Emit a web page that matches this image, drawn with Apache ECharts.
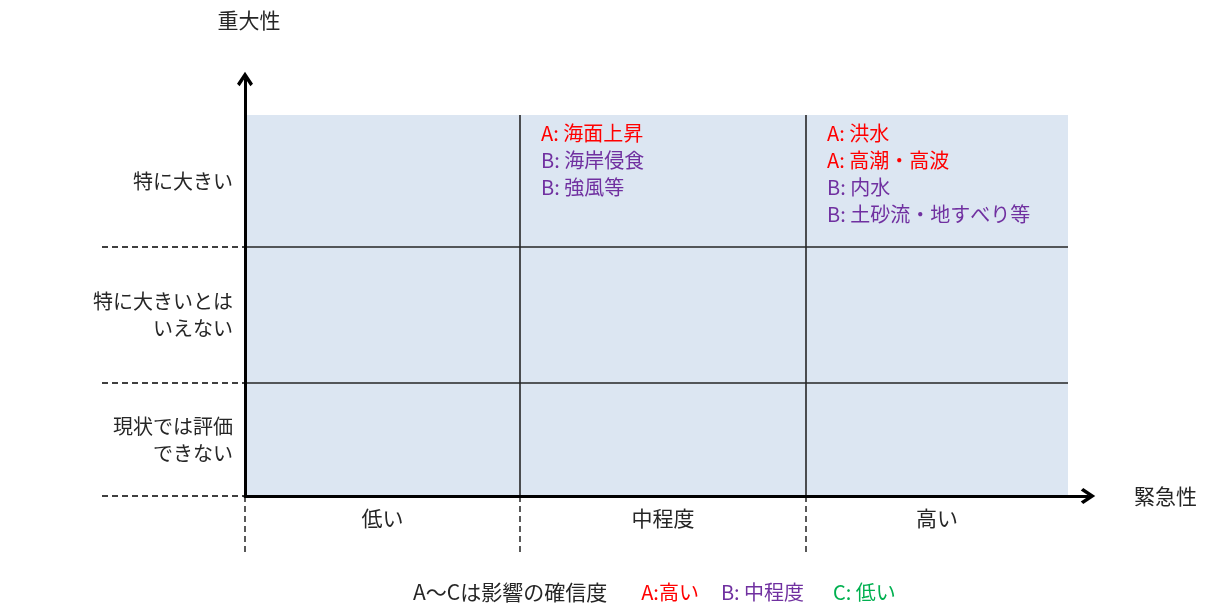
<!DOCTYPE html>
<html><head><meta charset="utf-8">
<script src="https://cdn.jsdelivr.net/npm/echarts@6/dist/echarts.min.js"></script>
<style>html,body{margin:0;padding:0;background:#fff}#c{width:1208px;height:608px}</style>
</head><body><div id="c"></div>
<script>
// ---- data ----
const colLabels = ['低い', '中程度', '高い'];
const rowLabels = ['現状では評価\nできない', '特に大きいとは\nいえない', '特に大きい'];
const colEdges = [0, 275, 561, 823];   // column boundaries (urgency)
const rowEdges = [0, 113, 249, 381];   // row boundaries (severity)
const axisMaxX = 843;
const axisMaxY = 417;
const axisNames = ['緊急性', '重大性'];
// [column index, row index, confidence grade, impact]
const cellItems = [
  [1, 2, 'A', '海面上昇'],
  [1, 2, 'B', '海岸侵食'],
  [1, 2, 'B', '強風等'],
  [2, 2, 'A', '洪水'],
  [2, 2, 'A', '高潮・高波'],
  [2, 2, 'B', '内水'],
  [2, 2, 'B', '土砂流・地すべり等']
];
const legendTitle = 'A〜Cは影響の確信度';
const gradeKeys = ['A', 'B', 'C'];
const gradeNames = ['A:高い', 'B: 中程度', 'C: 低い'];
const gradeColors = { A: '#FF0000', B: '#7030A0', C: '#00B050' };

// ---- chart ----
const FONT = '"Noto Sans CJK JP", "Noto Sans", sans-serif';
const chart = echarts.init(document.getElementById('c'), null, { renderer: 'canvas' });

const cellData = [];
cellItems.forEach(function (it) {
  const line = cellData.filter(function (d) { return d.col === it[0] && d.row === it[1]; }).length;
  cellData.push({ col: it[0], row: it[1], grade: it[2], text: it[3], line: line });
});

const arrow = 'path://M8,0 L16,12 L13.4,14.5 L8,6.2 L2.6,14.5 L0,12 Z';

const legendGaps = [34, 22, 29];
const rich = { t: { fontFamily: FONT, fontSize: 21, fontWeight: 'normal', color: '#262626' } };
gradeKeys.forEach(function (k, i) {
  rich[k] = { fontFamily: FONT, fontSize: 20, fontWeight: 'normal', color: gradeColors[k], padding: [0, 0, 0, legendGaps[i]] };
});
const legendText = '{t|' + legendTitle + '}' + gradeKeys.map(function (k, i) {
  return '{' + k + '|' + gradeNames[i] + '}';
}).join('');

const option = {
  animation: false,
  backgroundColor: '#ffffff',
  title: {
    text: legendText,
    left: 408, top: 577,
    textStyle: { rich: rich, fontWeight: 'normal' }
  },
  grid: { left: 245, right: 120, top: 79, bottom: 112 },
  xAxis: {
    type: 'value', min: 0, max: axisMaxX, z: 10,
    name: axisNames[0], nameLocation: 'end', nameGap: 46,
    nameTextStyle: { fontFamily: FONT, fontSize: 21, color: '#262626', align: 'left', verticalAlign: 'middle' },
    axisLine: { show: true, onZero: false, symbol: ['none', arrow], symbolSize: [16, 15],
      lineStyle: { color: '#000', width: 3 } },
    axisTick: { show: false }, axisLabel: { show: false }, splitLine: { show: false }
  },
  yAxis: {
    type: 'value', min: 0, max: axisMaxY, z: 10,
    name: axisNames[1], nameLocation: 'end', nameGap: 48,
    nameTextStyle: { fontFamily: FONT, fontSize: 21, color: '#262626', align: 'center', padding: [0, 0, 0, 8] },
    axisLine: { show: true, onZero: false, symbol: ['none', arrow], symbolSize: [16, 15],
      lineStyle: { color: '#000', width: 3 } },
    axisTick: { show: false }, axisLabel: { show: false }, splitLine: { show: false }
  },
  series: [
    { // background
      type: 'custom', z: 1, silent: true,
      data: [[colEdges[colEdges.length - 1], rowEdges[rowEdges.length - 1]]],
      renderItem: function (params, api) {
        const p0 = api.coord([colEdges[0], rowEdges[0]]);
        const p1 = api.coord([colEdges[colEdges.length - 1], rowEdges[rowEdges.length - 1]]);
        return { type: 'rect', shape: { x: p0[0], y: p1[1], width: p1[0] - p0[0], height: p0[1] - p1[1] },
          style: { fill: '#DCE6F2' } };
      }
    },
    { // inner solid lines
      type: 'custom', z: 2, silent: true,
      data: colEdges.slice(1, -1).map(function (v) { return [0, v]; })
        .concat(rowEdges.slice(1, -1).map(function (v) { return [1, v]; })),
      renderItem: function (params, api) {
        const kind = api.value(0), v = api.value(1);
        let a, b;
        if (kind === 0) {
          a = api.coord([v, rowEdges[0]]); b = api.coord([v, rowEdges[rowEdges.length - 1]]);
        } else {
          a = api.coord([colEdges[0], v]); b = api.coord([colEdges[colEdges.length - 1], v]);
        }
        return { type: 'line', shape: { x1: a[0], y1: a[1], x2: b[0], y2: b[1] },
          style: { stroke: '#262626', lineWidth: 1.6 } };
      }
    },
    { // dashed guides outside the plot
      type: 'custom', z: 2, silent: true,
      data: colEdges.slice(0, -1).map(function (v) { return [0, v]; })
        .concat(rowEdges.slice(0, -1).map(function (v) { return [1, v]; })),
      renderItem: function (params, api) {
        const kind = api.value(0), v = api.value(1);
        let a, b;
        if (kind === 0) {
          a = api.coord([v, 0]); b = [a[0], a[1] + 59];
        } else {
          b = api.coord([0, v]); a = [b[0] - 143, b[1]];
        }
        return { type: 'line', shape: { x1: a[0], y1: a[1], x2: b[0], y2: b[1] },
          style: { stroke: '#000', lineWidth: 1.3, lineDash: [6, 4] } };
      }
    },
    { // column labels
      type: 'custom', z: 3, silent: true,
      data: colLabels.map(function (l, i) { return [(colEdges[i] + colEdges[i + 1]) / 2, 0]; }),
      renderItem: function (params, api) {
        const p = api.coord([api.value(0), api.value(1)]);
        return { type: 'text', x: p[0], y: p[1] + 22,
          style: { text: colLabels[params.dataIndex], font: '21px ' + FONT, fill: '#262626', align: 'center', verticalAlign: 'middle' } };
      }
    },
    { // row labels
      type: 'custom', z: 3, silent: true,
      data: rowLabels.map(function (l, i) { return [0, (rowEdges[i] + rowEdges[i + 1]) / 2]; }),
      renderItem: function (params, api) {
        const p = api.coord([api.value(0), api.value(1)]);
        return { type: 'text', x: p[0] - 12, y: p[1],
          style: { text: rowLabels[params.dataIndex], font: '20px ' + FONT, fill: '#262626', align: 'right', verticalAlign: 'middle', lineHeight: 27 } };
      }
    },
    { // cell contents
      type: 'custom', z: 4, silent: true,
      data: cellData.map(function (d) { return [colEdges[d.col], rowEdges[d.row + 1]]; }),
      renderItem: function (params, api) {
        const d = cellData[params.dataIndex];
        const p = api.coord([api.value(0), api.value(1)]);
        return { type: 'text', x: p[0] + 21, y: p[1] + 18 + d.line * 27,
          style: { text: d.grade + ': ' + d.text, font: '20px ' + FONT, fill: gradeColors[d.grade], align: 'left', verticalAlign: 'middle' } };
      }
    }
  ]
};
chart.setOption(option);
</script>
</body></html>
